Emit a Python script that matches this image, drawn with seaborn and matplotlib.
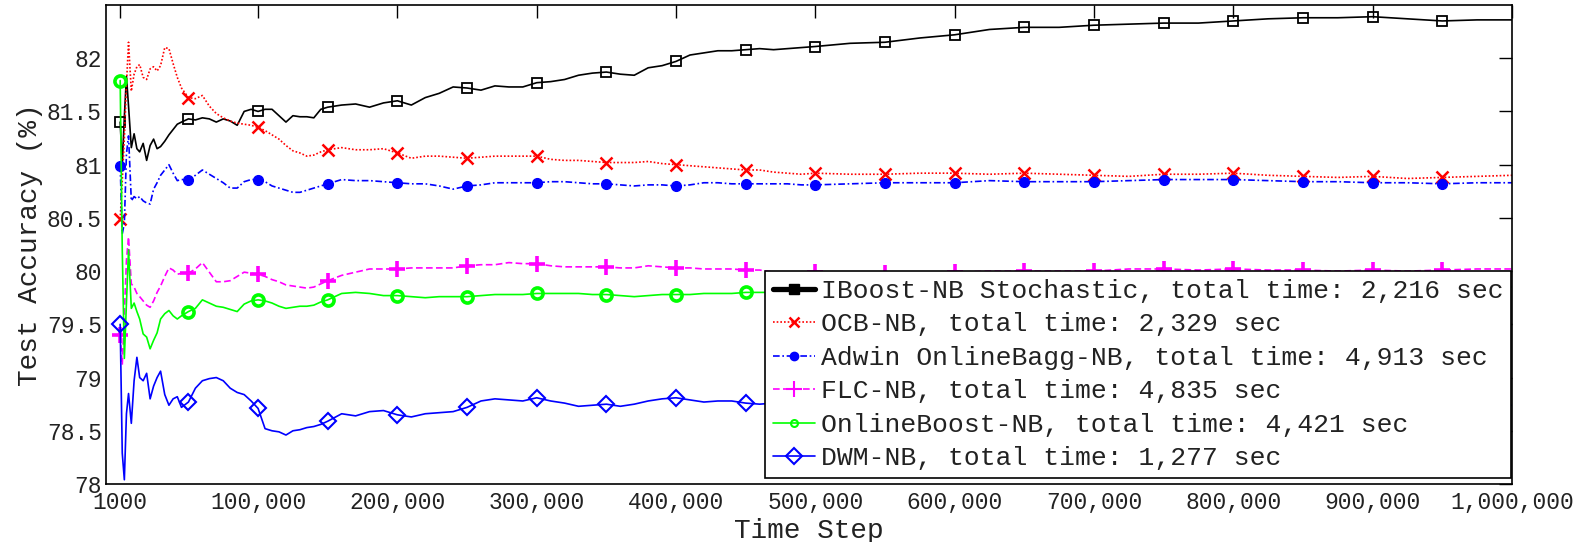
import numpy as np
import pandas as pd
import matplotlib
matplotlib.use("Agg")
import matplotlib.pyplot as plt
from matplotlib.lines import Line2D
import seaborn as sns

# Time steps at which the running test accuracy was recorded
time_steps = (
    [1000, 2500, 4000, 5500, 7000, 9000, 11000, 13000, 15000, 17500, 20000,
     22500, 25000, 27500, 30000, 33000, 36000, 39000, 42000, 45000, 50000,
     55000, 60000, 65000, 70000, 75000, 80000, 85000, 90000, 95000, 100000,
     105000, 110000, 115000, 120000, 125000, 130000, 135000, 140000, 145000, 150000]
    + list(range(160000, 500001, 10000))
    + list(range(525000, 1000001, 25000))
)

iboost = [
    81.40, 81.00, 81.45, 81.83, 81.55, 81.16, 81.29, 81.15, 81.12, 81.20, 81.04,
    81.18, 81.24, 81.15, 81.17, 81.22, 81.28, 81.33, 81.38, 81.40, 81.43,
    81.42, 81.44, 81.43, 81.40, 81.43, 81.41, 81.37, 81.50, 81.52, 81.50,
    81.52, 81.52, 81.46, 81.40, 81.46, 81.45, 81.45, 81.44, 81.52, 81.54,
    81.56, 81.57, 81.54, 81.58, 81.60, 81.56, 81.63, 81.67, 81.73, 81.72,
    81.70, 81.74, 81.73, 81.73, 81.77, 81.78, 81.80, 81.84, 81.86, 81.87,
    81.85, 81.84, 81.91, 81.93, 81.97, 82.03, 82.05, 82.07, 82.07, 82.08,
    82.09, 82.08, 82.09, 82.10, 82.11,
    82.14, 82.15, 82.19, 82.22, 82.27, 82.29, 82.29, 82.31, 82.32, 82.33,
    82.33, 82.35, 82.37, 82.38, 82.38, 82.39, 82.37, 82.35, 82.36, 82.36,
]

ocb = [
    80.49, 80.85, 81.25, 81.75, 82.15, 81.69, 81.85, 81.92, 81.94, 81.82, 81.80,
    81.90, 81.92, 81.88, 81.93, 82.10, 82.09, 81.95, 81.82, 81.72, 81.63,
    81.62, 81.65, 81.55, 81.48, 81.44, 81.41, 81.39, 81.38, 81.37, 81.35,
    81.32, 81.28, 81.24, 81.18, 81.13, 81.11, 81.08, 81.09, 81.12, 81.14,
    81.16, 81.14, 81.14, 81.15, 81.11, 81.06, 81.08, 81.08, 81.07, 81.06,
    81.07, 81.08, 81.08, 81.08, 81.08, 81.05, 81.04, 81.04, 81.03, 81.02,
    81.02, 81.02, 81.03, 81.01, 81.00, 80.99, 80.98, 80.97, 80.96, 80.95,
    80.95, 80.93, 80.92, 80.91, 80.92,
    80.91, 80.91, 80.92, 80.92, 80.91, 80.92, 80.91, 80.90, 80.89, 80.91,
    80.91, 80.92, 80.90, 80.89, 80.88, 80.89, 80.87, 80.88, 80.89, 80.90,
]

adwin = [
    80.99, 80.35, 80.45, 81.10, 81.27, 80.66, 80.70, 80.68, 80.70, 80.66, 80.64,
    80.63, 80.77, 80.83, 80.90, 80.95, 81.00, 80.92, 80.85, 80.86, 80.86,
    80.90, 80.95, 80.91, 80.87, 80.83, 80.78, 80.78, 80.84, 80.86, 80.86,
    80.84, 80.80, 80.78, 80.76, 80.74, 80.74, 80.76, 80.78, 80.80, 80.82,
    80.86, 80.85, 80.85, 80.84, 80.83, 80.82, 80.82, 80.80, 80.77, 80.80,
    80.81, 80.83, 80.83, 80.83, 80.83, 80.84, 80.84, 80.83, 80.82, 80.82,
    80.81, 80.80, 80.81, 80.81, 80.80, 80.81, 80.83, 80.83, 80.82, 80.82,
    80.82, 80.82, 80.82, 80.81, 80.81,
    80.82, 80.83, 80.83, 80.83, 80.85, 80.84, 80.84, 80.84, 80.85, 80.86,
    80.86, 80.86, 80.85, 80.84, 80.84, 80.83, 80.83, 80.82, 80.83, 80.83,
]

flc = [
    79.40, 79.12, 79.60, 80.10, 80.32, 79.88, 79.85, 79.79, 79.76, 79.72, 79.68,
    79.66, 79.72, 79.80, 79.86, 79.95, 80.03, 80.01, 79.97, 79.98, 79.98,
    80.02, 80.08, 79.99, 79.90, 79.90, 79.91, 79.95, 79.99, 79.98, 79.97,
    79.95, 79.92, 79.90, 79.87, 79.86, 79.85, 79.84, 79.85, 79.88, 79.91,
    79.96, 79.99, 80.02, 80.02, 80.02, 80.03, 80.03, 80.03, 80.03, 80.05,
    80.06, 80.06, 80.08, 80.07, 80.07, 80.05, 80.04, 80.04, 80.04, 80.04,
    80.03, 80.03, 80.05, 80.04, 80.03, 80.03, 80.02, 80.02, 80.02, 80.01,
    80.01, 79.99, 79.98, 79.98, 79.99,
    79.96, 79.98, 79.99, 79.99, 80.00, 80.00, 80.00, 80.00, 80.02, 80.02,
    80.01, 80.02, 80.01, 80.01, 80.00, 80.01, 80.00, 80.01, 80.02, 80.02,
]

online_boost = [
    81.79, 80.20, 79.18, 79.70, 80.20, 79.65, 79.70, 79.62, 79.55, 79.41, 79.38,
    79.27, 79.35, 79.42, 79.55, 79.60, 79.63, 79.58, 79.55, 79.58, 79.62,
    79.65, 79.73, 79.70, 79.67, 79.66, 79.64, 79.62, 79.69, 79.72, 79.73,
    79.72, 79.70, 79.67, 79.65, 79.66, 79.67, 79.67, 79.68, 79.71, 79.73,
    79.79, 79.80, 79.79, 79.77, 79.77, 79.76, 79.75, 79.76, 79.76, 79.76,
    79.77, 79.78, 79.78, 79.78, 79.79, 79.79, 79.79, 79.79, 79.78, 79.78,
    79.77, 79.76, 79.77, 79.78, 79.78, 79.78, 79.79, 79.79, 79.79, 79.80,
    79.80, 79.80, 79.80, 79.81, 79.81,
    79.81, 79.81, 79.82, 79.82, 79.82, 79.82, 79.83, 79.83, 79.83, 79.83,
    79.83, 79.83, 79.84, 79.84, 79.84, 79.84, 79.84, 79.84, 79.84, 79.85,
]

dwm = [
    79.50, 78.29, 78.04, 78.66, 78.85, 78.57, 78.97, 79.19, 79.00, 78.97, 79.04,
    78.80, 78.92, 79.00, 79.06, 78.84, 78.74, 78.80, 78.82, 78.72, 78.77,
    78.90, 78.97, 78.99, 79.00, 78.97, 78.90, 78.86, 78.84, 78.78, 78.71,
    78.52, 78.50, 78.49, 78.46, 78.50, 78.51, 78.53, 78.54, 78.56, 78.59,
    78.66, 78.64, 78.68, 78.69, 78.65, 78.63, 78.66, 78.67, 78.68, 78.72,
    78.78, 78.80, 78.79, 78.78, 78.81, 78.78, 78.76, 78.73, 78.74, 78.75,
    78.73, 78.75, 78.78, 78.80, 78.81, 78.79, 78.77, 78.78, 78.78, 78.76,
    78.75, 78.76, 78.77, 78.77, 78.78,
    78.78, 78.78, 78.78, 78.77, 78.77, 78.77, 78.76, 78.76, 78.76, 78.76,
    78.75, 78.75, 78.75, 78.75, 78.74, 78.74, 78.74, 78.74, 78.74, 78.74,
]

labels = [
    "IBoost-NB Stochastic, total time: 2,216 sec",
    "OCB-NB, total time: 2,329 sec",
    "Adwin OnlineBagg-NB, total time: 4,913 sec",
    "FLC-NB, total time: 4,835 sec",
    "OnlineBoost-NB, total time: 4,421 sec",
    "DWM-NB, total time: 1,277 sec",
]

x_ticks = [1000, 100000, 200000, 300000, 400000, 500000,
           600000, 700000, 800000, 900000, 1000000]
x_tick_labels = ["1000", "100,000", "200,000", "300,000", "400,000", "500,000",
                 "600,000", "700,000", "800,000", "900,000", "1,000,000"]
y_ticks = [78, 78.5, 79, 79.5, 80, 80.5, 81, 81.5, 82]
y_tick_labels = ["78", "78.5", "79", "79.5", "80", "80.5", "81", "81.5", "82"]

series_values = [iboost, ocb, adwin, flc, online_boost, dwm]
frames = []
for name, vals in zip(labels, series_values):
    frames.append(pd.DataFrame({"step": time_steps, "acc": vals, "method": name}))
df = pd.concat(frames, ignore_index=True)

sns.set_theme(style="white")
plt.rcParams["font.family"] = ["Liberation Mono", "DejaVu Sans Mono"]

LW = 1.2
styles = [
    dict(color="#000000", ls="-", marker="s", ms=7.5, mfc="none", mew=1.3),
    dict(color="#FF0000", ls=(0, (1, 1.2)), marker="x", ms=8, mfc="#FF0000", mew=1.8),
    dict(color="#0000FF", ls=(0, (4, 1.6, 1, 1.6)), marker="o", ms=7, mfc="#0000FF", mew=1.0),
    dict(color="#FF00FF", ls=(0, (4, 2)), marker="+", ms=11, mfc="#FF00FF", mew=2.6),
    dict(color="#00FF00", ls="-", marker="o", ms=8, mfc="none", mew=2.6),
    dict(color="#0000FF", ls="-", marker="D", ms=8, mfc="none", mew=1.5),
]

# marker on the first step and on every multiple of 50,000 below 1,000,000
mark_idx = [i for i, s in enumerate(time_steps) if s == 1000 or (s % 50000 == 0 and s < 1000000)]

fig = plt.figure(figsize=(15.91, 5.42), dpi=100)
ax = fig.add_axes([0.0666, 0.107, 0.8837, 0.8838])

for name, st in zip(labels, styles):
    sub = df[df["method"] == name]
    sns.lineplot(
        data=sub, x="step", y="acc", ax=ax, color=st["color"], linestyle=st["ls"],
        linewidth=LW, marker=st["marker"], markersize=st["ms"],
        markerfacecolor=st["mfc"], markeredgecolor=st["color"],
        markeredgewidth=st["mew"], markevery=mark_idx, legend=False,
        estimator=None, sort=False,
    )

ax.set_xlim(-9200, 1000000)
ax.set_ylim(78, 82.5)
ax.set_xticks(x_ticks)
ax.set_xticklabels(x_tick_labels)
ax.set_yticks(y_ticks)
ax.set_yticklabels(y_tick_labels)
ax.tick_params(axis="both", which="major", direction="in", length=9.5, width=1.0,
               top=True, right=True, labelsize=16.5, colors="#000000")
ax.tick_params(axis="x", pad=5)
ax.tick_params(axis="y", pad=3)
for lab in ax.get_xticklabels() + ax.get_yticklabels():
    lab.set_color("#222222")
for sp in ax.spines.values():
    sp.set_color("#000000")
    sp.set_linewidth(1.2)
    sp.set_visible(True)

ax.set_xlabel("Time Step", fontsize=20, labelpad=3, color="#222222")
ax.set_ylabel("Test Accuracy (%)", fontsize=20, labelpad=3, color="#222222")
ax.grid(False)

handles = [
    Line2D([], [], color="#000000", lw=3.8, marker="s", ms=7, mfc="#000000", mec="#000000"),
    Line2D([], [], color="#FF0000", lw=LW, ls=(0, (1, 1.2)), marker="x", ms=7, mec="#FF0000", mew=1.8),
    Line2D([], [], color="#0000FF", lw=LW, ls=(0, (4, 1.6, 1, 1.6)), marker="o", ms=6, mfc="#0000FF", mec="#0000FF"),
    Line2D([], [], color="#FF00FF", lw=LW, ls=(0, (4, 2)), marker="+", ms=11, mec="#FF00FF", mew=1.5),
    Line2D([], [], color="#00FF00", lw=LW, marker="o", ms=5, mfc="none", mec="#00FF00", mew=1.5),
    Line2D([], [], color="#0000FF", lw=LW, marker="D", ms=8, mfc="none", mec="#0000FF", mew=1.5),
]
leg = ax.legend(
    handles=handles, labels=labels, loc="lower right",
    bbox_to_anchor=(0.9995, 0.012), borderaxespad=0.0, fontsize=19,
    frameon=True, fancybox=False, handlelength=1.6, handletextpad=0.2,
    borderpad=0.3, labelspacing=0.36, framealpha=1.0,
)
leg.get_frame().set_edgecolor("#000000")
leg.get_frame().set_linewidth(1.2)
for t in leg.get_texts():
    t.set_color("#222222")

fig.savefig("out.png", dpi=100)
